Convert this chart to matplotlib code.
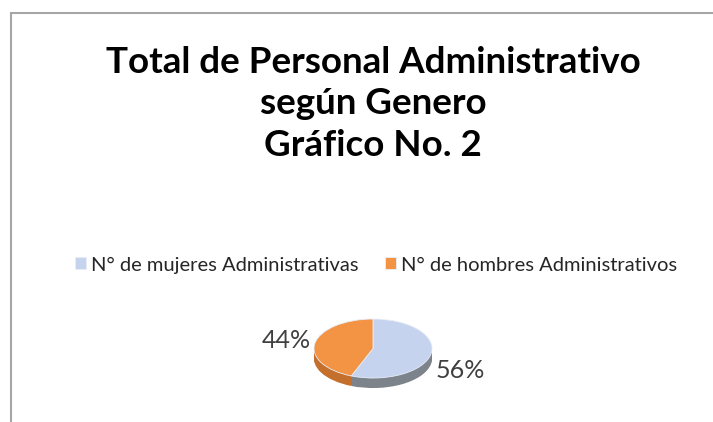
import matplotlib
matplotlib.use("Agg")
import matplotlib.pyplot as plt
from matplotlib.patches import Rectangle

plt.rcParams['font.family'] = ['Lato', 'DejaVu Sans']

# datos
categorias = ["N° de mujeres Administrativas", "N° de hombres Administrativos"]
porcentajes = [56, 44]
colores_tapa = ["#c6d3ee", "#f39444"]
colores_lado = ["#7d838b", "#c4702c"]

W, H = 713, 422
fig = plt.figure(figsize=(W / 100, H / 100), dpi=100)

# marco gris del grafico
fig.add_artist(Rectangle((11 / W, -0.1), 1.2, 1.1 - 13 / H, transform=fig.transFigure,
                         fill=False, edgecolor="#a6a6a6", linewidth=1.5))

fig.text(373 / W, 1 - 104 / H,
         "Total de Personal Administrativo\nsegún Genero\nGráfico No. 2",
         ha="center", va="center", fontsize=26.5, fontweight="bold",
         linespacing=1.3, color="black")

# pastel "3D": elipse con aspecto libre + paredes desplazadas hacia abajo
cx, cy, rx, ry = 373, 348.5, 59, 29.5
depth = 0.34
ax = fig.add_axes([(cx - rx) / W, 1 - (cy + ry + depth * ry) / H,
                   2 * rx / W, (2 + depth) * ry / H])

n = 12
for i in range(n, 0, -1):
    off = depth * i / n
    ax.pie(porcentajes, colors=colores_lado, startangle=90, counterclock=False,
           center=(0, -off), radius=1, frame=True,
           wedgeprops=dict(linewidth=0))
wedges, _ = ax.pie(porcentajes, colors=colores_tapa, startangle=90, counterclock=False,
                   center=(0, 0), radius=1, frame=True,
                   wedgeprops=dict(linewidth=0.6, edgecolor="#e8eef8"))
ax.set_aspect("auto")
ax.set_xlim(-1, 1)
ax.set_ylim(-1 - depth, 1)
ax.axis("off")

# etiquetas de porcentaje
fig.text(460 / W, 1 - 370 / H, f"{porcentajes[0]}%", ha="center", va="center",
         fontsize=18, color="#404040")
fig.text(286 / W, 1 - 341 / H, f"{porcentajes[1]}%", ha="center", va="center",
         fontsize=18, color="#404040")

leg = fig.legend(wedges, categorias, loc="center", bbox_to_anchor=(376 / W, 1 - 265 / H),
                 ncol=2, frameon=False, fontsize=14.5, handlelength=0.55, handleheight=0.55,
                 handletextpad=0.25, columnspacing=1.3)
for t in leg.get_texts():
    t.set_color("#262626")

fig.savefig("out.png", dpi=100, facecolor="white")
